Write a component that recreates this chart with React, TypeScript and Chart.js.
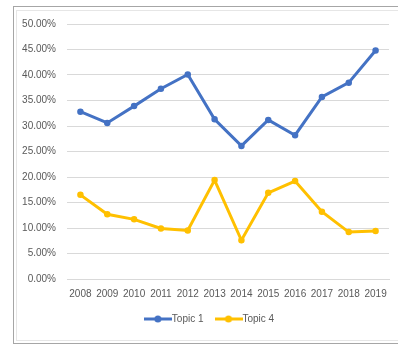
import { useEffect, useRef } from "react";
import { Chart, registerables } from "chart.js";

Chart.register(...registerables);

const years = ["2008", "2009", "2010", "2011", "2012", "2013", "2014", "2015", "2016", "2017", "2018", "2019"];
const topic1 = [32.8, 30.6, 33.9, 37.3, 40.1, 31.3, 26.1, 31.2, 28.2, 35.7, 38.5, 44.8];
const topic4 = [16.5, 12.7, 11.7, 9.9, 9.5, 19.4, 7.6, 16.9, 19.2, 13.2, 9.2, 9.4];
const seriesNames = ["Topic 1", "Topic 4"];
const seriesColors = ["#4472C4", "#FFC000"];
const yMin = 0;
const yMax = 50;
const yStep = 5;

const FONT = "'Liberation Sans', Arial, sans-serif";
const TEXT = "#595959";
const GRID = "#d9d9d9";

// Line-with-dot marker used as the legend symbol
function lineMarker(color: string): HTMLCanvasElement {
  const c = document.createElement("canvas");
  c.width = 28;
  c.height = 8;
  const ctx = c.getContext("2d")!;
  ctx.strokeStyle = color;
  ctx.lineWidth = 3;
  ctx.beginPath();
  ctx.moveTo(0, 4);
  ctx.lineTo(28, 4);
  ctx.stroke();
  ctx.fillStyle = color;
  ctx.beginPath();
  ctx.arc(14, 4, 3.5, 0, Math.PI * 2);
  ctx.fill();
  return c;
}

export default function App() {
  const canvasRef = useRef<HTMLCanvasElement | null>(null);

  useEffect(() => {
    if (!canvasRef.current) return;
    const markers = seriesColors.map(lineMarker);
    const values = [topic1, topic4];
    const chart = new Chart(canvasRef.current, {
      type: "line",
      data: {
        labels: years,
        datasets: values.map((v, i) => ({
          label: seriesNames[i],
          data: v,
          borderColor: seriesColors[i],
          backgroundColor: seriesColors[i],
          borderWidth: 3,
          pointRadius: 2.5,
          pointBorderWidth: 1.5,
          pointBackgroundColor: seriesColors[i],
          pointBorderColor: seriesColors[i],
          tension: 0,
          fill: false,
        })),
      },
      options: {
        responsive: false,
        animation: false,
        layout: { padding: { left: 14, top: 24, right: 0, bottom: 12 } },
        plugins: {
          tooltip: { enabled: false },
          legend: {
            position: "bottom",
            labels: {
              usePointStyle: true,
              pointStyleWidth: 18,
              padding: 16,
              color: TEXT,
              font: { family: FONT, size: 10 },
              generateLabels: (c: Chart) => {
                const items = Chart.defaults.plugins.legend.labels.generateLabels(c);
                items.forEach((it: any, i: number) => {
                  it.pointStyle = markers[i];
                });
                return items;
              },
            },
          },
        },
        scales: {
          x: {
            offset: true,
            grid: { display: false, drawTicks: false },
            border: { display: true, color: GRID, width: 1 },
            ticks: {
              color: TEXT,
              font: { family: FONT, size: 10 },
              padding: 9,
              maxRotation: 0,
              autoSkip: false,
            },
            afterFit: (s: any) => {
              s.height = 19;
            },
          },
          y: {
            min: yMin,
            max: yMax,
            grid: { color: GRID, lineWidth: 1, drawTicks: false },
            border: { display: false },
            ticks: {
              stepSize: yStep,
              color: TEXT,
              font: { family: FONT, size: 10 },
              padding: 11,
              callback: (v: any) => Number(v).toFixed(2) + "%",
            },
            afterFit: (s: any) => {
              s.width = 53;
            },
          },
          // empty right-hand spacer so the legend centres within the wider frame
          yRight: {
            position: "right",
            display: true,
            grid: { display: false, drawTicks: false },
            border: { display: false },
            ticks: { display: false },
            afterFit: (s: any) => {
              s.width = 20;
            },
          },
        },
      },
    } as any);
    return () => chart.destroy();
  }, []);

  return (
    <div
      style={{
        position: "fixed",
        left: 0,
        top: 0,
        width: 398,
        height: 346,
        overflow: "hidden",
        background: "#ffffff",
      }}
    >
      <div
        style={{
          position: "absolute",
          left: 13,
          top: 6,
          width: 440,
          height: 336,
          borderTop: "1px solid #a6a6a6",
          borderLeft: "1px solid #a6a6a6",
          borderBottom: "1px solid #a6a6a6",
        }}
      />
      <div
        style={{
          position: "absolute",
          left: 16,
          top: 10,
          width: 440,
          height: 329,
          borderTop: "1px solid #e6e6e6",
          borderLeft: "1px solid #e6e6e6",
          borderBottom: "1px solid #e6e6e6",
        }}
      />
      <canvas
        ref={canvasRef}
        width={409}
        height={346}
        style={{ position: "absolute", left: 0, top: 0, width: 409, height: 346 }}
      />
    </div>
  );
}
